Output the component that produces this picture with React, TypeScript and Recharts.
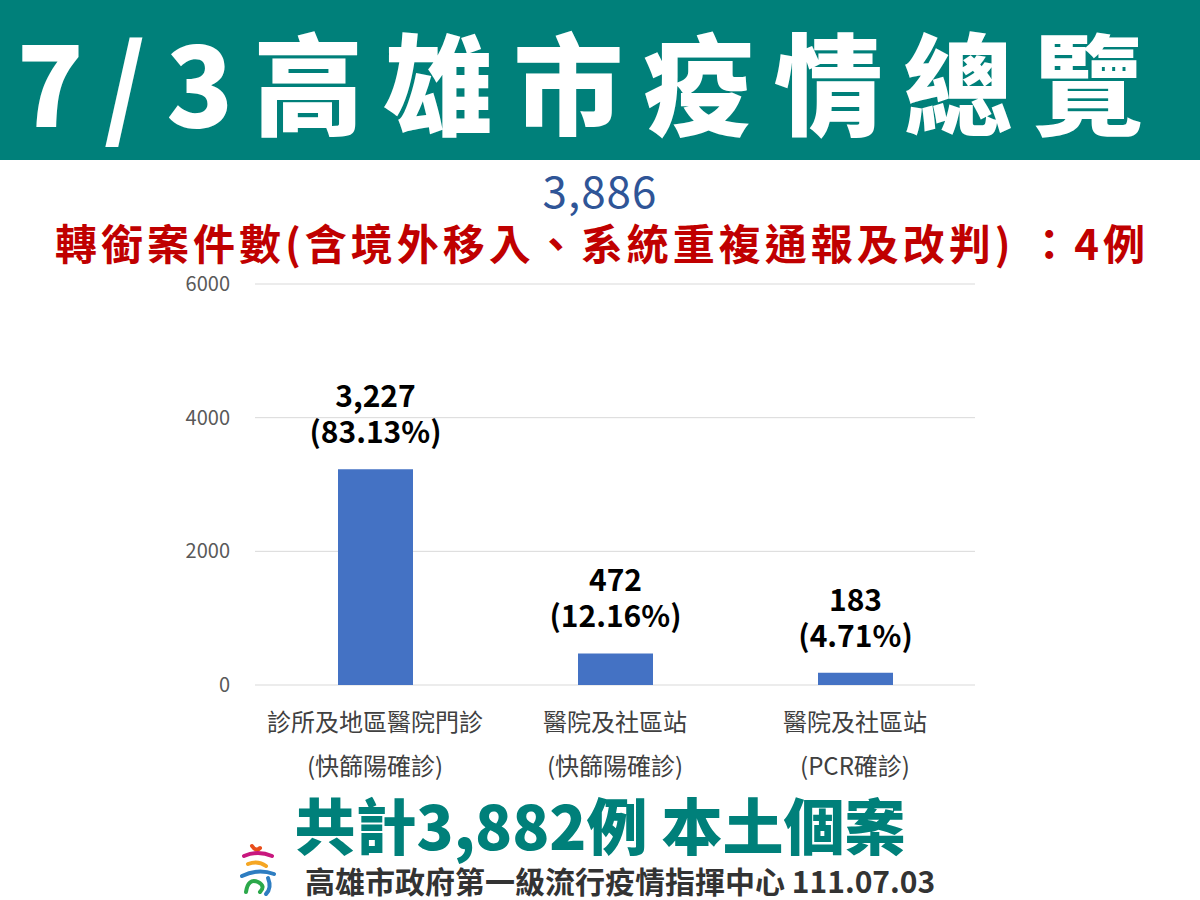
import { BarChart, Bar, XAxis, YAxis, CartesianGrid, LabelList } from 'recharts'

const CATEGORIES = ['診所及地區醫院門診', '醫院及社區站', '醫院及社區站']
const SUB_LABELS = ['(快篩陽確診)', '(快篩陽確診)', '(PCR確診)']
const CASES = [3227, 472, 183]
const SHARES = ['83.13%', '12.16%', '4.71%']
const Y_TICKS = [0, 2000, 4000, 6000]

const data = CATEGORIES.map((name, i) => ({
  name,
  sub: SUB_LABELS[i],
  cases: CASES[i],
  share: SHARES[i],
}))

const FONT = '"Noto Sans CJK TC", "Noto Sans", sans-serif'
const TEAL = '#00807A'

function CategoryTick({ x, y, payload, index }: any) {
  return (
    <g transform={`translate(${x},${y})`}>
      <text textAnchor="middle" y={38} fontSize={24} fill="#404040" fontFamily={FONT}>
        {payload.value}
      </text>
      <text textAnchor="middle" y={82} fontSize={24} fill="#404040" fontFamily={FONT}>
        {SUB_LABELS[index]}
      </text>
    </g>
  )
}

// two stacked lines above each bar: count, then share
function ValueLabel({ x, y, width, value, index }: any) {
  const cx = x + width / 2
  return (
    <text x={cx} y={y - 62} fontFamily={FONT} fontWeight={700} fontSize={30} fill="#000" textAnchor="middle">
      <tspan x={cx}>{value.toLocaleString('en-US')}</tspan>
      <tspan x={cx} dy={36}>({SHARES[index]})</tspan>
    </text>
  )
}

function Logo() {
  return (
    <svg width={40} height={56} viewBox="0 0 40 56" style={{ position: 'absolute', left: 238, top: 842 }}>
      <path d="M14 4 Q18 10 22 6" stroke="#E94E1B" strokeWidth={4} fill="none" strokeLinecap="round" />
      <path d="M6 14 Q20 8 34 14" stroke="#C8177E" strokeWidth={4} fill="none" strokeLinecap="round" />
      <path d="M10 22 Q20 18 28 24" stroke="#F5A623" strokeWidth={4} fill="none" strokeLinecap="round" />
      <path d="M4 34 Q20 26 36 32" stroke="#2E7DC1" strokeWidth={4} fill="none" strokeLinecap="round" />
      <path d="M8 50 Q10 36 20 40 Q28 44 22 50" stroke="#2BA84A" strokeWidth={4} fill="none" strokeLinecap="round" />
      <path d="M30 36 Q34 46 28 52" stroke="#2E7DC1" strokeWidth={4} fill="none" strokeLinecap="round" />
    </svg>
  )
}

export default function App() {
  return (
    <div style={{ position: 'absolute', left: 0, top: 0, width: 1200, height: 900, background: '#fff', overflow: 'hidden', fontFamily: FONT }}>
      <div style={{ position: 'absolute', left: 0, top: 0, width: 1200, height: 160, background: TEAL }} />
      <div style={{ position: 'absolute', left: 0, top: 4, width: 1180, textAlign: 'center', color: '#fff', fontSize: 110, fontWeight: 900, lineHeight: '150px', letterSpacing: 20, whiteSpace: 'nowrap' }}>
        7/3高雄市疫情總覽
      </div>
      <div style={{ position: 'absolute', left: 0, top: 162, width: 1200, textAlign: 'center', color: '#2F5597', fontSize: 44, lineHeight: '54px', letterSpacing: 1 }}>
        3,886
      </div>
      <div style={{ position: 'absolute', left: 0, top: 216, width: 1204, textAlign: 'center', color: '#C00000', fontSize: 42, fontWeight: 700, lineHeight: '52px', letterSpacing: 4, whiteSpace: 'nowrap' }}>
        轉銜案件數(含境外移入、系統重複通報及改判) ：4例
      </div>

      <div style={{ position: 'absolute', left: 0, top: 250 }}>
        <BarChart width={1200} height={540} data={data} margin={{ top: 34, right: 225, left: 175, bottom: 5 }}>
          <CartesianGrid vertical={false} stroke="#D9D9D9" />
          <XAxis dataKey="name" axisLine={false} tickLine={false} height={100} tick={<CategoryTick />} interval={0} />
          <YAxis
            domain={[0, 6000]}
            ticks={Y_TICKS}
            width={80}
            axisLine={false}
            tickLine={false}
            tickMargin={19}
            tick={{ fontSize: 20, fill: '#595959', fontFamily: FONT }}
          />
          <Bar dataKey="cases" fill="#4472C4" barSize={75} isAnimationActive={false}>
            <LabelList dataKey="cases" content={<ValueLabel />} />
          </Bar>
        </BarChart>
      </div>

      <div style={{ position: 'absolute', left: 0, top: 790, width: 1200, textAlign: 'center', color: TEAL, fontSize: 61, fontWeight: 900, lineHeight: '68px', whiteSpace: 'nowrap' }}>
        共計3,882例 本土個案
      </div>
      <Logo />
      <div style={{ position: 'absolute', left: 305, top: 861, color: '#333', fontSize: 30, fontWeight: 700, lineHeight: '38px', whiteSpace: 'nowrap' }}>
        高雄市政府第一級流行疫情指揮中心 111.07.03
      </div>
    </div>
  )
}
